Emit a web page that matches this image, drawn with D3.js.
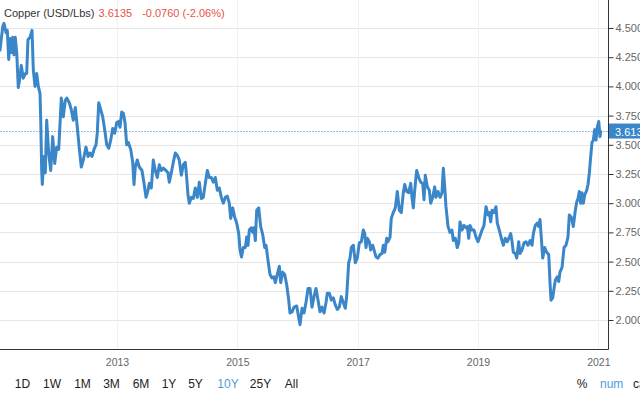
<!DOCTYPE html>
<html>
<head>
<meta charset="utf-8">
<script src="https://cdn.jsdelivr.net/npm/d3@7"></script>
<style>
  html, body { margin: 0; padding: 0; background: #fff; }
  svg { display: block; font-family: "Liberation Sans", Arial, sans-serif; }
</style>
</head>
<body>
<svg id="chart" width="640" height="394"></svg>
<script>
// ---- data (decimal year, USD/Lbs) ----
const years = [
2011.055,2011.100,2011.121,2011.155,2011.176,2011.200,2011.221,2011.243,2011.266,2011.288,2011.309,2011.333,2011.359,2011.387,2011.409,2011.442,2011.476,2011.499,2011.520,2011.554,2011.587,2011.609,2011.637,2011.665,2011.692,2011.720,2011.732,2011.748,2011.758,2011.786,2011.808,2011.831,2011.864,2011.898,2011.931,2011.964,2011.997,
2012.031,2012.074,2012.107,2012.140,2012.164,2012.207,2012.240,2012.273,2012.307,2012.340,2012.373,2012.406,2012.440,2012.484,2012.518,2012.551,2012.584,2012.617,2012.651,2012.672,2012.696,2012.729,2012.762,2012.795,2012.829,2012.862,2012.895,2012.928,2012.962,2012.995,
2013.028,2013.050,2013.078,2013.105,2013.133,2013.161,2013.188,2013.228,2013.261,2013.282,2013.304,2013.337,2013.370,2013.415,2013.449,2013.482,2013.515,2013.537,2013.570,2013.603,2013.636,2013.670,2013.703,2013.736,2013.769,2013.814,2013.847,2013.869,2013.902,2013.936,2013.969,
2014.002,2014.035,2014.069,2014.102,2014.135,2014.158,2014.180,2014.202,2014.235,2014.268,2014.301,2014.335,2014.368,2014.401,2014.434,2014.468,2014.501,2014.534,2014.567,2014.601,2014.634,2014.667,2014.700,2014.734,2014.767,2014.800,2014.833,2014.866,2014.890,2014.923,2014.956,2014.989,
2015.023,2015.044,2015.069,2015.099,2015.132,2015.156,2015.177,2015.199,2015.232,2015.255,2015.277,2015.299,2015.322,2015.355,2015.388,2015.422,2015.455,2015.477,2015.510,2015.543,2015.576,2015.609,2015.631,2015.664,2015.698,2015.721,2015.754,2015.787,2015.821,2015.854,2015.875,2015.909,2015.942,2015.987,
2016.020,2016.042,2016.075,2016.108,2016.141,2016.175,2016.208,2016.241,2016.274,2016.308,2016.341,2016.374,2016.407,2016.441,2016.474,2016.495,2016.529,2016.562,2016.595,2016.628,2016.662,2016.695,2016.728,2016.761,2016.795,2016.818,2016.851,2016.873,2016.894,2016.928,2016.961,2016.994,
2017.027,2017.061,2017.094,2017.117,2017.139,2017.160,2017.194,2017.217,2017.250,2017.272,2017.305,2017.338,2017.371,2017.405,2017.426,2017.450,2017.483,2017.504,2017.538,2017.559,2017.592,2017.626,2017.659,2017.692,2017.725,2017.759,2017.782,2017.815,2017.848,2017.882,2017.903,2017.925,2017.948,2017.981,
2018.015,2018.048,2018.081,2018.103,2018.124,2018.158,2018.191,2018.214,2018.247,2018.281,2018.302,2018.336,2018.369,2018.402,2018.424,2018.447,2018.468,2018.502,2018.535,2018.568,2018.590,2018.623,2018.656,2018.680,2018.701,2018.734,2018.768,2018.801,2018.823,2018.846,2018.867,2018.901,2018.934,2018.967,
2019.000,2019.034,2019.067,2019.100,2019.133,2019.167,2019.188,2019.211,2019.233,2019.266,2019.299,2019.321,2019.354,2019.388,2019.421,2019.454,2019.487,2019.521,2019.544,2019.566,2019.587,2019.620,2019.644,2019.677,2019.698,2019.732,2019.765,2019.798,2019.831,2019.865,2019.898,2019.920,2019.953,2019.986,
2020.009,2020.031,2020.053,2020.076,2020.109,2020.142,2020.176,2020.197,2020.214,2020.242,2020.264,2020.285,2020.319,2020.342,2020.363,2020.397,2020.430,2020.463,2020.496,2020.518,2020.551,2020.584,2020.618,2020.641,2020.663,2020.684,2020.707,2020.729,2020.751,2020.774,2020.807,2020.829,2020.851,2020.874,2020.895,2020.917,2020.940,2020.962,2020.983,
2021.007,2021.028,2021.040
];
const prices = [
4.31,4.51,4.54,4.46,4.48,4.23,4.41,4.29,4.42,4.27,4.42,4.29,3.99,4.08,4.18,4.07,4.11,4.11,4.40,4.42,4.48,4.14,4.00,4.11,4.00,3.94,3.71,3.28,3.16,3.40,3.26,3.71,3.43,3.28,3.57,3.34,3.48,
3.46,3.90,3.74,3.88,3.90,3.86,3.80,3.71,3.82,3.65,3.47,3.31,3.37,3.48,3.40,3.43,3.40,3.46,3.50,3.60,3.86,3.80,3.74,3.63,3.50,3.47,3.54,3.64,3.60,3.69,
3.70,3.65,3.78,3.77,3.69,3.50,3.52,3.46,3.35,3.16,3.31,3.37,3.31,3.28,3.17,3.05,3.11,3.17,3.13,3.37,3.28,3.22,3.33,3.28,3.30,3.28,3.26,3.18,3.26,3.35,3.43,
3.41,3.37,3.24,3.33,3.35,3.22,3.07,3.00,3.05,3.04,3.13,3.05,3.18,3.04,3.05,3.17,3.28,3.22,3.22,3.18,3.22,3.11,3.13,3.05,3.00,3.05,3.06,3.00,2.87,2.96,2.88,2.83,
2.74,2.60,2.54,2.62,2.62,2.71,2.64,2.77,2.79,2.75,2.79,2.68,2.94,2.96,2.80,2.73,2.62,2.64,2.51,2.39,2.36,2.37,2.32,2.39,2.46,2.32,2.41,2.39,2.30,2.17,2.06,2.07,2.11,2.12,
2.02,1.96,2.10,2.06,2.15,2.27,2.27,2.11,2.20,2.27,2.17,2.07,2.11,2.06,2.15,2.23,2.23,2.17,2.19,2.13,2.09,2.11,2.20,2.15,2.10,2.21,2.49,2.53,2.62,2.64,2.49,2.53,
2.66,2.67,2.77,2.74,2.62,2.70,2.67,2.60,2.64,2.60,2.54,2.53,2.56,2.57,2.64,2.58,2.70,2.67,2.71,2.87,2.92,2.96,3.10,2.94,2.92,3.09,3.16,3.10,3.09,3.17,3.05,2.96,3.11,3.28,
3.22,3.18,3.17,3.03,3.24,3.14,3.11,3.00,3.05,3.14,3.05,3.10,3.05,3.09,3.30,3.14,2.97,2.80,2.75,2.77,2.68,2.70,2.62,2.66,2.84,2.77,2.81,2.79,2.80,2.70,2.81,2.77,2.77,2.71,
2.67,2.72,2.77,2.81,2.97,2.90,2.92,2.84,2.94,2.92,2.97,2.83,2.77,2.70,2.64,2.70,2.67,2.71,2.74,2.67,2.58,2.57,2.53,2.67,2.57,2.60,2.66,2.67,2.64,2.68,2.64,2.74,2.81,2.83,
2.80,2.86,2.70,2.53,2.62,2.58,2.56,2.32,2.17,2.19,2.27,2.34,2.37,2.33,2.41,2.45,2.62,2.64,2.71,2.90,2.88,2.80,2.94,3.01,3.04,3.10,3.00,3.09,3.00,3.07,3.11,3.16,3.26,3.40,3.52,3.54,3.63,3.54,3.65,
3.70,3.57,3.6135
];
const yTicks = [2.0, 2.25, 2.5, 2.75, 3.0, 3.25, 3.5, 3.75, 4.0, 4.25, 4.5];
const xTicks = [2013, 2015, 2017, 2019, 2021];
const rangeButtons = ["1D", "1W", "1M", "3M", "6M", "1Y", "5Y", "10Y", "25Y", "All"];
const activeRange = "10Y";
const titleText = "Copper (USD/Lbs)";
const lastPrice = 3.6135;
const changeText = "-0.0760 (-2.06%)";

// ---- layout ----
const W = 640, H = 394;
const plotL = 0, plotR = 608, plotT = 0, plotB = 349;
const lineColor = "#3a86c8";

const svg = d3.select("#chart");

const x = d3.scaleLinear().domain([2011.055, 2021.161]).range([plotL, plotR]);
const y = d3.scaleLinear().domain([2, 4.5]).range([320, 28]);

// grid
svg.append("g").selectAll("line").data(yTicks).join("line")
  .attr("x1", plotL).attr("x2", plotR)
  .attr("y1", d => Math.round(y(d)) + 0.5).attr("y2", d => Math.round(y(d)) + 0.5)
  .attr("stroke", "#e6e6e6").attr("stroke-width", 1);
svg.append("g").selectAll("line").data(xTicks).join("line")
  .attr("x1", d => Math.round(x(d)) + 0.5).attr("x2", d => Math.round(x(d)) + 0.5)
  .attr("y1", plotT).attr("y2", plotB)
  .attr("stroke", "#eef1f5").attr("stroke-width", 1);

// last price line
svg.append("line")
  .attr("x1", plotL).attr("x2", plotR)
  .attr("y1", Math.round(y(lastPrice)) - 0.5).attr("y2", Math.round(y(lastPrice)) - 0.5)
  .attr("stroke", "#8fc0ea").attr("stroke-width", 1).attr("stroke-dasharray", "2,1");

// clip
svg.append("clipPath").attr("id", "clip").append("rect")
  .attr("x", plotL).attr("y", plotT).attr("width", plotR - plotL).attr("height", plotB - plotT);

const data = years.map((t, i) => ({t, v: prices[i]}));
const line = d3.line().x(d => x(d.t)).y(d => y(d.v));
svg.append("path").datum(data)
  .attr("clip-path", "url(#clip)")
  .attr("d", line)
  .attr("fill", "none")
  .attr("stroke", lineColor)
  .attr("stroke-width", 3)
  .attr("stroke-linejoin", "round")
  .attr("stroke-linecap", "round");

// y axis (right)
const yAxis = d3.axisRight(y).tickValues(yTicks).tickFormat(d3.format(".3f")).tickSize(5).tickPadding(2).tickSizeOuter(0);
const gy = svg.append("g").attr("transform", `translate(${plotR + 0.5},0)`).call(yAxis);
gy.select(".domain").remove();
gy.selectAll(".tick line").attr("stroke", "#333");
gy.selectAll(".tick text").attr("fill", "#666").style("font-size", "11px").style("font-family", "Liberation Sans, Arial, sans-serif");
svg.append("line").attr("x1", plotR + 0.5).attr("x2", plotR + 0.5).attr("y1", plotT).attr("y2", plotB + 0.5)
  .attr("stroke", "#333").attr("stroke-width", 1);

// x axis
const xAxis = d3.axisBottom(x).tickValues(xTicks).tickFormat(d3.format("d")).tickSize(0).tickPadding(9).tickSizeOuter(0);
const gx = svg.append("g").attr("transform", `translate(0,${plotB + 0.5})`).call(xAxis);
gx.select(".domain").remove();
gx.selectAll(".tick text").attr("fill", "#666").style("font-size", "10.5px").style("font-family", "Liberation Sans, Arial, sans-serif");
svg.append("line").attr("x1", plotL).attr("x2", plotR + 0.5).attr("y1", plotB + 0.5).attr("y2", plotB + 0.5)
  .attr("stroke", "#333").attr("stroke-width", 1);

// last price label box
const ly = y(lastPrice);
svg.append("rect").attr("x", plotR + 1).attr("y", ly - 8).attr("width", W - plotR).attr("height", 15)
  .attr("fill", lineColor);
svg.append("text").attr("x", plotR + 7).attr("y", ly + 4)
  .attr("fill", "#fff").style("font-size", "11px").text((Math.floor(lastPrice * 1000) / 1000).toFixed(3));

// title
const title = svg.append("text").attr("x", 4).attr("y", 17).style("font-size", "11px");
title.append("tspan").attr("fill", "#333").text(titleText);
title.append("tspan").attr("fill", "#e8524a").attr("dx", 4).text(String(lastPrice));
title.append("tspan").attr("fill", "#e8524a").attr("dx", 10).text(changeText);

// range buttons
const btnX = [22.5, 52, 82.5, 111.5, 141, 169, 195.5, 228, 260.5, 291.5];
svg.append("g").selectAll("text").data(rangeButtons).join("text")
  .attr("x", (d, i) => btnX[i]).attr("y", 388)
  .attr("text-anchor", "middle")
  .attr("fill", d => d === activeRange ? "#4a9de0" : "#222")
  .style("font-size", "12px")
  .text(d => d);
svg.append("text").attr("x", 582).attr("y", 388).attr("text-anchor", "middle").attr("fill", "#222").style("font-size", "12px").text("%");
svg.append("text").attr("x", 600).attr("y", 388).attr("fill", "#4a9de0").style("font-size", "12px").text("num");
svg.append("text").attr("x", 633).attr("y", 388).attr("fill", "#222").style("font-size", "12px").text("candle");
</script>
</body>
</html>
